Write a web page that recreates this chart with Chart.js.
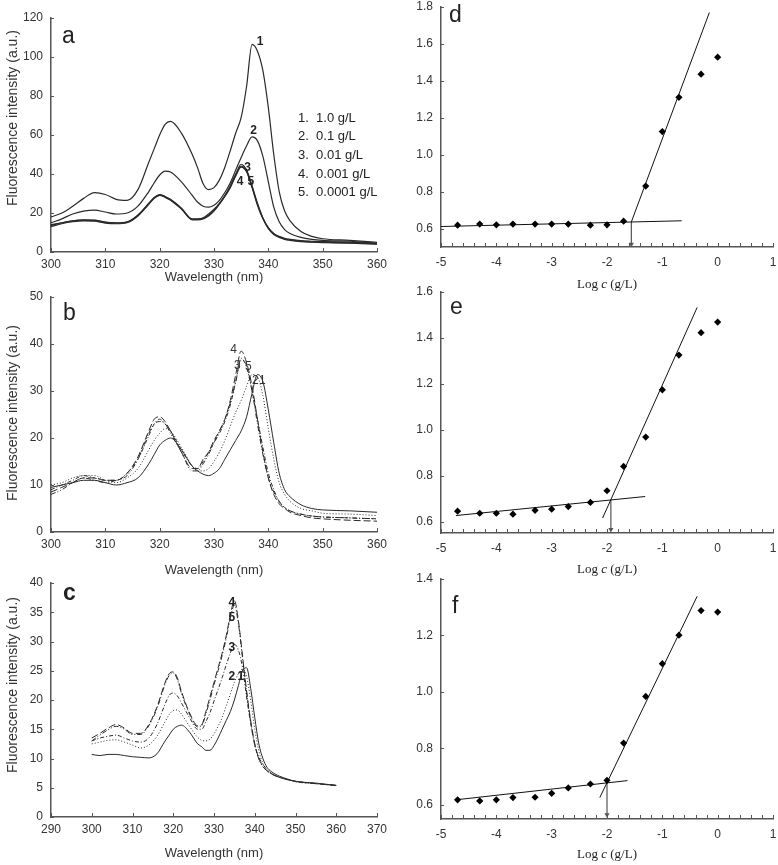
<html>
  <head>
    <script src="https://cdn.jsdelivr.net/npm/chart.js"></script>
    <meta charset="UTF-8" />
    <style>
      body { margin: 0; background: #fff; }
      #wrap { position: relative; width: 778px; height: 865px; }
      #wrap canvas { position: absolute; left: 0; top: 0; }
    </style>
  </head>
  <body>
    <div id="wrap">
      <canvas id="pa" width="778" height="865"></canvas>
      <canvas id="pb" width="778" height="865"></canvas>
      <canvas id="pc" width="778" height="865"></canvas>
      <canvas id="pd" width="778" height="865"></canvas>
      <canvas id="pe" width="778" height="865"></canvas>
      <canvas id="pf" width="778" height="865"></canvas>
    </div>
    <script>
      // wavelength grid (nm) shared by the three spectra panels
      const wl = [300, 302, 304, 306, 308, 310, 312, 314, 316, 318, 319, 320, 321, 322, 324, 326, 327, 328, 329, 330,
        331, 332, 333, 334, 335, 336, 337, 338, 339, 340, 341, 342, 343, 344, 346, 348, 350, 355, 360];

      // panel a
      const a1 = [18, 20, 23.5, 27.5, 30.5, 29.5, 27, 26.5, 32, 46, 53, 60, 65.5, 67, 61, 50, 43, 35, 32, 33,
        37, 43.5, 52, 61, 69, 85, 106.5, 103, 93, 74, 50, 31, 21, 16, 10.5, 8, 6.8, 6, 5];
      const a2 = [15, 17, 19.5, 21, 21.5, 20.5, 19.5, 20, 23.5, 31, 35.5, 39.5, 41.5, 41, 36, 29, 25.5, 23.5, 23, 24,
        26.5, 30.5, 35.5, 42, 48.5, 54.5, 59, 57, 49, 36, 23, 15.5, 11.5, 9.5, 7.5, 6.5, 6, 5.5, 4.5];
      const a3 = [14, 15, 16, 16.5, 16.3, 15.3, 15, 15.5, 19, 25, 28, 29.5, 28.5, 27, 22.5, 17, 17, 17.5, 19.5, 22,
        25, 29, 34, 40, 45, 42, 34, 25, 17.5, 12.5, 9.5, 8, 7, 6.5, 5.8, 5.5, 5.3, 5, 4.5];
      const a4 = [13, 14.5, 15.5, 16, 15.8, 14.8, 14.5, 15, 18.5, 24.5, 27.5, 29, 28, 26.5, 22, 16.5, 16.5, 17, 18.5, 21,
        24.5, 28.5, 33, 39, 43.5, 41, 33, 24, 17, 12, 9, 7.5, 6.5, 6, 5.3, 5, 4.8, 4.5, 4];
      const a5 = [13.5, 15, 16, 16.3, 16.2, 15.2, 14.8, 15.3, 18.8, 24.8, 27.8, 29.2, 28.3, 26.8, 22.3, 16.8, 16.8, 17.2, 18.8, 21.3,
        24.8, 28.8, 33.5, 39.5, 44, 41.5, 33.5, 24.5, 17.3, 12.3, 9.2, 7.7, 6.7, 6.2, 5.5, 5.2, 5, 4.7, 4.2];

      // panel b
      const b1 = [9.5, 10, 10.5, 11, 11, 10.5, 10, 10.5, 11.5, 14.5, 16.5, 18.5, 19.5, 20, 17.5, 14, 13, 12.3, 12, 12.5,
        13.5, 15.5, 17.5, 19.5, 21.5, 24.5, 29.5, 33.5, 32, 26, 19, 12.5, 9, 7.5, 5.8, 5, 4.7, 4.5, 4.2];
      const b2 = [10, 10.5, 11.5, 12, 12, 11, 10.5, 11.5, 13.5, 17.5, 19.5, 21, 22, 21.5, 18, 14, 13, 13, 13.5, 15,
        17, 19.5, 22.5, 25.5, 28, 31, 33.5, 33, 29, 22, 15.5, 10.5, 8, 6.5, 5, 4.5, 4, 3.8, 3.5];
      const b3 = [9, 10, 11, 12, 11.5, 11, 11, 12.5, 15.5, 20.5, 23, 24, 23, 21.5, 17.5, 14, 13.5, 15, 17, 19,
        21, 23.5, 27, 32, 37, 35, 30, 24, 18, 12.5, 9, 6.5, 5.2, 4.5, 3.8, 3.4, 3.2, 3, 2.8];
      const b4 = [8.5, 9.5, 10.5, 11.5, 11.5, 11, 11, 12.5, 16, 21.5, 24, 24.5, 23.5, 21.5, 17, 13.5, 13.5, 15.5, 17, 19.5,
        21.5, 24, 28, 33.5, 38.5, 36, 31, 24, 17, 11.5, 8, 6, 5, 4.2, 3.5, 3, 2.8, 2.5, 2.3];
      const b5 = [8, 9, 10.5, 11.5, 11, 10.5, 11, 12, 15.5, 21, 23, 23.5, 23, 21, 17, 13, 13, 14.5, 16.5, 19,
        21.5, 24, 27.5, 32, 36.5, 35.5, 30, 23, 16.5, 11.5, 8.5, 6.5, 5.2, 4.5, 3.8, 3.4, 3.2, 3, 2.8];

      // panel c
      const c1 = [10.7, 10.5, 10.7, 10.7, 10.5, 10.3, 10.2, 10.1, 10.8, 13, 14, 15, 15.5, 15.7, 14.5, 12.5, 12, 11.4, 11.4, 12.2,
        13.5, 15, 16.5, 18, 20, 22.5, 25, 25.5, 22, 17, 12.5, 10, 8.5, 7.8, 7, 6.5, 6.1, 5.8, 5.4];
      const c2 = [12.5, 12.8, 13.1, 13.2, 12.8, 12.3, 11.8, 12.3, 13.8, 16.3, 17.5, 18.2, 18.3, 17.6, 15.5, 13.6, 13.1, 13, 13.3, 14.2,
        15.5, 17, 19, 21, 23, 24.5, 25.3, 24, 20, 15, 11.3, 9.2, 8.1, 7.5, 6.8, 6.4, 6, 5.7, 5.4];
      const c3 = [13, 13.5, 13.8, 14, 13.5, 13, 12.8, 13.5, 15.8, 19.3, 20.8, 21.2, 20.7, 19.5, 17, 15, 15, 16.3, 17.8, 19.8,
        21.8, 23.8, 26, 28, 29.5, 28.5, 25.5, 20.5, 16, 12.3, 10.2, 9, 8.1, 7.5, 6.8, 6.4, 6.1, 5.7, 5.4];
      const c4 = [13.5, 14.3, 15.2, 15.8, 15.2, 14.3, 14.3, 15.8, 18.8, 23, 24.5, 24.8, 23.8, 21.5, 17.8, 15.6, 15.8, 18, 20.5, 23,
        25.5, 28, 31, 34.5, 37, 33.5, 27.5, 21.5, 16.5, 12.5, 10, 8.7, 7.9, 7.4, 6.8, 6.4, 6.1, 5.7, 5.4];
      const c5 = [13, 14, 14.9, 15.5, 15, 14.1, 14.1, 15.6, 18.5, 22.7, 24.2, 24.6, 23.5, 21.2, 17.6, 15.4, 15.6, 17.6, 20, 22.6,
        25, 27.6, 30.5, 34, 36.2, 33, 27.2, 21.3, 16.3, 12.4, 9.9, 8.6, 7.9, 7.4, 6.8, 6.4, 6.1, 5.7, 5.4];

      const concLegend = ["1.  1.0 g/L", "2.  0.1 g/L", "3.  0.01 g/L", "4.  0.001 g/L", "5.  0.0001 g/L"];
      const curveNames = ["1", "2", "3", "4", "5"];
      // curve number labels (data coordinates)
      const aLabX = [338.5, 337.3, 336.2, 334.8, 336.8], aLabY = [108, 62, 43, 36, 36];
      const bLabX = [338.9, 337.6, 334.3, 333.6, 336.3], bLabY = [32.3, 32.3, 35.4, 38.7, 35.2];
      const cLabX = [336.6, 334.4, 334.4, 334.4, 334.4], cLabY = [24, 24, 29, 36.6, 34];

      // right panels: log c and intensity ratio
      const logC = [-4.7, -4.3, -4, -3.7, -3.3, -3, -2.7, -2.3, -2, -1.7, -1.3, -1, -0.7, -0.3, 0];
      const dVals = [0.618, 0.624, 0.62, 0.624, 0.624, 0.624, 0.624, 0.618, 0.62, 0.64, 0.83, 1.125, 1.311, 1.436, 1.528];
      const eVals = [0.645, 0.636, 0.636, 0.632, 0.649, 0.654, 0.665, 0.683, 0.734, 0.84, 0.968, 1.174, 1.325, 1.423, 1.469];
      const fVals = [0.618, 0.614, 0.618, 0.626, 0.627, 0.641, 0.66, 0.674, 0.687, 0.819, 0.984, 1.10, 1.201, 1.288, 1.283];

      const dLowX = [-5, -0.65], dLowY = [0.611, 0.642];
      const dHighX = [-1.56, -0.15], dHighY = [0.636, 1.77];
      const dArrX = [-1.56, -1.56], dArrY = [0.636, 0.515];
      const eLowX = [-4.73, -1.31], eLowY = [0.626, 0.709];
      const eHighX = [-2.08, -0.37], eHighY = [0.615, 1.533];
      const eArrX = [-1.93, -1.93], eArrY = [0.694, 0.565];
      const fLowX = [-4.73, -1.63], fLowY = [0.618, 0.686];
      const fHighX = [-2.13, -0.37], fHighY = [0.626, 1.339];
      const fArrX = [-2.0, -2.0], fArrY = [0.678, 0.565];

      // tick values
      const wlTicks = [300, 310, 320, 330, 340, 350, 360];
      const wlTicksC = [290, 300, 310, 320, 330, 340, 350, 360, 370];
      const aYTicks = [0, 20, 40, 60, 80, 100, 120];
      const bYTicks = [0, 10, 20, 30, 40, 50];
      const cYTicks = [0, 5, 10, 15, 20, 25, 30, 35, 40];
      const logTicks = [-5, -4, -3, -2, -1, 0, 1];
      const dYTicks = [0.6, 0.8, 1.0, 1.2, 1.4, 1.6, 1.8];
      const eYTicks = [0.6, 0.8, 1.0, 1.2, 1.4, 1.6];
      const fYTicks = [0.6, 0.8, 1.0, 1.2, 1.4];
      const logMinor = Array.from({ length: 31 }, (_, i) => -5 + i * 0.2);

      const W = 778, H = 865;
      const SANS = "'Liberation Sans', Arial, sans-serif";
      const SERIF = "'Liberation Serif', 'Times New Roman', serif";
      const axisColor = "#555";

      const pts = (xs, ys) => xs.map((x, i) => ({ x, y: ys[i] }));

      const decor = {
        id: "decor",
        afterDraw(chart, args, o) {
          const ctx = chart.ctx;
          const sx = chart.scales.x, sy = chart.scales.y;
          ctx.save();
          // inward tick marks
          ctx.strokeStyle = axisColor;
          ctx.lineWidth = 1;
          ctx.beginPath();
          sy.ticks.forEach(t => {
            const p = Math.round(sy.getPixelForValue(t.value)) + 0.5;
            ctx.moveTo(sx.left, p);
            ctx.lineTo(sx.left + 3, p);
          });
          (o.xMinor || sx.ticks.map(t => t.value)).forEach(v => {
            const p = Math.round(sx.getPixelForValue(v)) + 0.5;
            ctx.moveTo(p, sy.bottom);
            ctx.lineTo(p, sy.bottom - 4);
          });
          ctx.stroke();

          ctx.fillStyle = "#222";
          ctx.textBaseline = "alphabetic";
          ctx.textAlign = "left";
          ctx.font = o.letter.font;
          ctx.fillText(o.letter.t, o.letter.x, o.letter.y);

          ctx.fillStyle = "#333";
          ctx.textBaseline = "middle";
          if (o.yTitle) {
            ctx.save();
            ctx.translate(o.yTitle.x, o.yTitle.y);
            ctx.rotate(-Math.PI / 2);
            ctx.textAlign = "center";
            ctx.font = "14px " + SANS;
            ctx.fillText(o.yTitle.t, 0, 0);
            ctx.restore();
          }
          if (o.xTitle) {
            ctx.textAlign = "center";
            ctx.font = "13px " + SANS;
            ctx.fillText(o.xTitle.t, o.xTitle.x, o.xTitle.y);
          }
          if (o.logTitle) {
            const parts = [["Log ", "13px " + SERIF], ["c", "italic 13px " + SERIF], [" (g/L)", "13px " + SERIF]];
            let total = 0;
            parts.forEach(p => { ctx.font = p[1]; total += ctx.measureText(p[0]).width; });
            let x = o.logTitle.x - total / 2;
            ctx.textAlign = "left";
            ctx.fillStyle = "#222";
            parts.forEach(p => { ctx.font = p[1]; ctx.fillText(p[0], x, o.logTitle.y); x += ctx.measureText(p[0]).width; });
          }
          if (o.labels) {
            ctx.textAlign = "center";
            ctx.font = o.labels.font;
            ctx.fillStyle = o.labels.color;
            o.labels.x.forEach((v, i) => {
              ctx.fillText(curveNames[i], sx.getPixelForValue(v), sy.getPixelForValue(o.labels.y[i]));
            });
          }
          if (o.legend) {
            ctx.textAlign = "left";
            ctx.font = "13px " + SANS;
            ctx.fillStyle = "#222";
            concLegend.forEach((t, i) => ctx.fillText(t, o.legend.x, o.legend.y + i * o.legend.dy));
          }
          ctx.restore();
        },
      };

      function makeChart(id, box, xCfg, yCfg, datasets, deco) {
        const yW = 30, xH = 30;
        const zeroPad = s => { s.paddingTop = 0; s.paddingBottom = 0; s.paddingLeft = 0; s.paddingRight = 0; };
        const tickFont = { family: SANS, size: 12 };
        return new Chart(document.getElementById(id), {
          type: "scatter",
          data: { datasets },
          options: {
            responsive: false,
            animation: false,
            devicePixelRatio: 1,
            layout: { padding: { left: box.l - yW, top: box.t, right: W - box.r, bottom: H - box.b - xH } },
            scales: {
              x: {
                type: "linear",
                min: xCfg.min,
                max: xCfg.max,
                afterBuildTicks: s => { s.ticks = xCfg.ticks.map(v => ({ value: v })); },
                afterFit: s => { s.height = xH; zeroPad(s); },
                grid: { display: false, drawTicks: false },
                border: { display: true, color: axisColor, width: 1.5 },
                ticks: { padding: xCfg.pad, color: "#333", font: tickFont, maxRotation: 0, autoSkip: false },
              },
              y: {
                type: "linear",
                min: yCfg.min,
                max: yCfg.max,
                afterBuildTicks: s => { s.ticks = yCfg.ticks.map(v => ({ value: v })); },
                afterFit: s => { s.width = yW; zeroPad(s); },
                grid: { display: false, drawTicks: false },
                border: { display: true, color: axisColor, width: 1.5 },
                ticks: { padding: 8, color: "#333", font: tickFont, autoSkip: false, callback: yCfg.fmt || (v => v) },
              },
            },
            plugins: { legend: { display: false }, tooltip: { enabled: false }, decor: deco },
          },
          plugins: [decor],
        });
      }

      const spec = (ys, dash, width) => ({
        data: pts(wl, ys),
        showLine: true,
        pointRadius: 0,
        borderColor: "#2a2a2a",
        borderWidth: width || 1,
        borderDash: dash,
        cubicInterpolationMode: "monotone",
      });
      const dashes = [[], [1, 2], [4, 2, 1, 2], [7, 3], [5, 2, 1, 2, 1, 2]];

      const fitLine = (xs, ys) => ({
        data: pts(xs, ys), showLine: true, pointRadius: 0, borderColor: "#111", borderWidth: 1,
      });
      const arrow = (xs, ys) => ({
        data: pts(xs, ys), showLine: true, borderColor: "#555", borderWidth: 1.2,
        pointRadius: [0, 3], pointStyle: "triangle", rotation: 180,
        pointBackgroundColor: "#555", pointBorderColor: "#555", pointBorderWidth: 0,
      });
      const scatterSet = ys => ({
        data: pts(logC, ys), pointStyle: "rectRot", pointRadius: 3.6,
        pointBackgroundColor: "#000", pointBorderColor: "#000", pointBorderWidth: 0,
      });

      const letterFont = "23px " + SANS;
      const yTitleText = "Fluorescence intensity (a.u.)";

      makeChart("pa", { l: 51, r: 377, t: 18, b: 252 },
        { min: 300, max: 360, ticks: wlTicks, pad: 5 },
        { min: 0, max: 120, ticks: aYTicks },
        [a1, a2, a3, a4, a5].map(v => spec(v, [], 1.2)),
        {
          letter: { t: "a", x: 62, y: 43, font: letterFont },
          yTitle: { t: yTitleText, x: 13, y: 118 },
          xTitle: { t: "Wavelength (nm)", x: 214, y: 277 },
          labels: { x: aLabX, y: aLabY, font: "bold 12px " + SANS, color: "#222" },
          legend: { x: 298, y: 118, dy: 18.7 },
        });

      makeChart("pb", { l: 51, r: 377, t: 297, b: 532 },
        { min: 300, max: 360, ticks: wlTicks, pad: 5 },
        { min: 0, max: 50, ticks: bYTicks },
        [b1, b2, b3, b4, b5].map((v, i) => spec(v, dashes[i], 1)),
        {
          letter: { t: "b", x: 63, y: 320, font: letterFont },
          yTitle: { t: yTitleText, x: 13, y: 413 },
          xTitle: { t: "Wavelength (nm)", x: 214, y: 570 },
          labels: { x: bLabX, y: bLabY, font: "12px " + SANS, color: "#333" },
        });

      makeChart("pc", { l: 51, r: 377, t: 583, b: 817 },
        { min: 290, max: 370, ticks: wlTicksC, pad: 5 },
        { min: 0, max: 40, ticks: cYTicks },
        [c1, c2, c3, c4, c5].map((v, i) => spec(v, dashes[i], 1)),
        {
          letter: { t: "c", x: 63, y: 600, font: "bold " + letterFont },
          yTitle: { t: yTitleText, x: 13, y: 685 },
          xTitle: { t: "Wavelength (nm)", x: 214, y: 853 },
          labels: { x: cLabX, y: cLabY, font: "bold 12px " + SANS, color: "#222" },
        });

      const dec1 = v => v.toFixed(1);
      makeChart("pd", { l: 441, r: 773, t: 7, b: 247 },
        { min: -5, max: 1, ticks: logTicks, pad: 8 },
        { min: 0.5, max: 1.8, ticks: dYTicks, fmt: dec1 },
        [scatterSet(dVals), fitLine(dLowX, dLowY), fitLine(dHighX, dHighY), arrow(dArrX, dArrY)],
        {
          letter: { t: "d", x: 449, y: 22, font: letterFont },
          logTitle: { x: 607, y: 285 },
          xMinor: logMinor,
        });

      makeChart("pe", { l: 441, r: 773, t: 292, b: 533 },
        { min: -5, max: 1, ticks: logTicks, pad: 8 },
        { min: 0.55, max: 1.6, ticks: eYTicks, fmt: dec1 },
        [scatterSet(eVals), fitLine(eLowX, eLowY), fitLine(eHighX, eHighY), arrow(eArrX, eArrY)],
        {
          letter: { t: "e", x: 450, y: 314, font: letterFont },
          logTitle: { x: 607, y: 570 },
          xMinor: logMinor,
        });

      makeChart("pf", { l: 441, r: 773, t: 579, b: 819 },
        { min: -5, max: 1, ticks: logTicks, pad: 8 },
        { min: 0.55, max: 1.4, ticks: fYTicks, fmt: dec1 },
        [scatterSet(fVals), fitLine(fLowX, fLowY), fitLine(fHighX, fHighY), arrow(fArrX, fArrY)],
        {
          letter: { t: "f", x: 452, y: 613, font: letterFont },
          logTitle: { x: 607, y: 855 },
          xMinor: logMinor,
        });
    </script>
  </body>
</html>
